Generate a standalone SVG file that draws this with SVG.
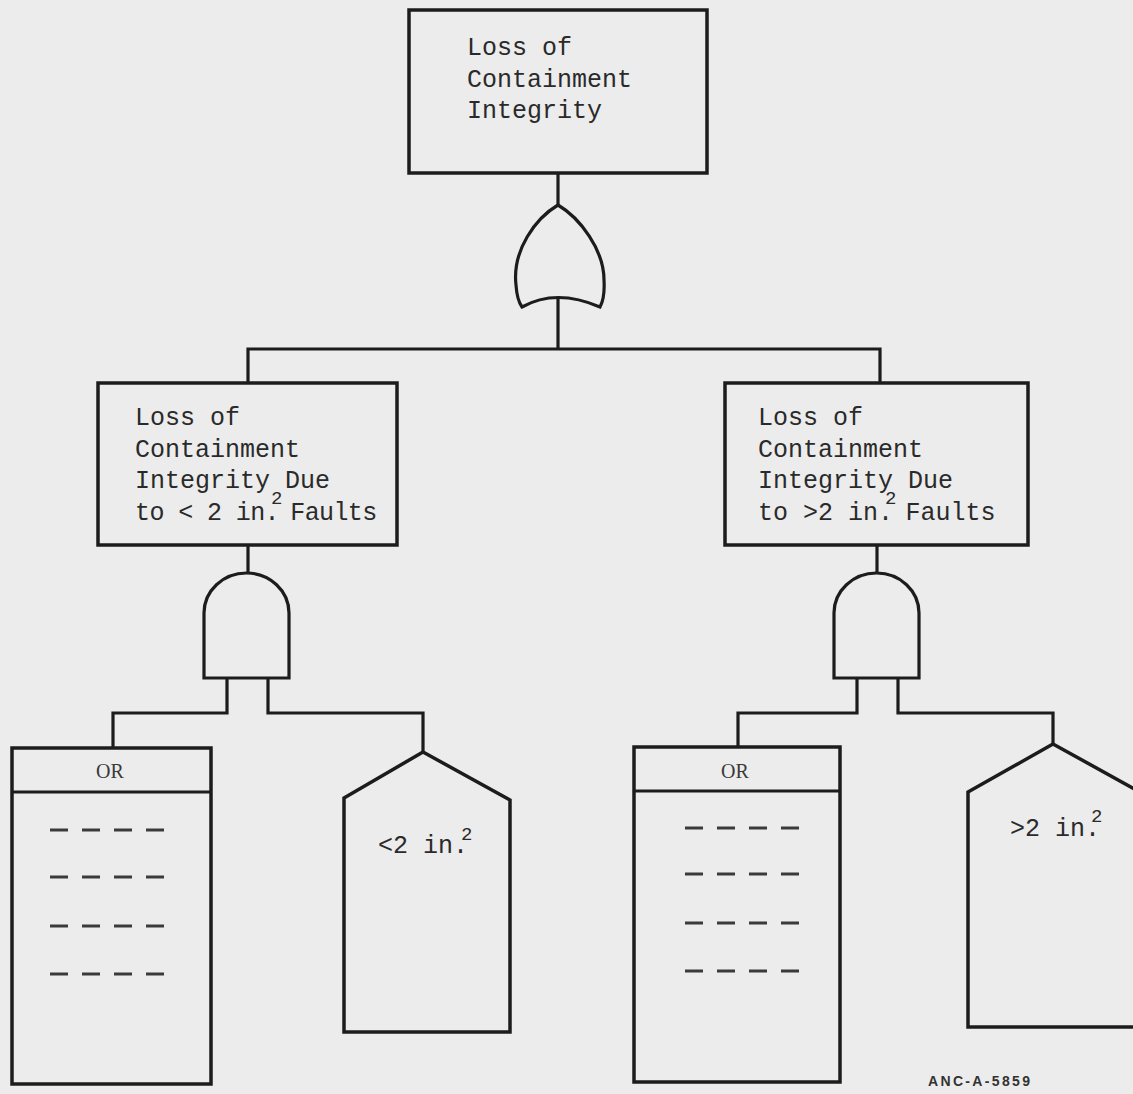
<svg xmlns="http://www.w3.org/2000/svg" width="1133" height="1094" viewBox="0 0 1133 1094">
<style>
.ln{fill:none;stroke:#1c1c1c;stroke-width:3.2;stroke-linejoin:miter}
.box{fill:#ececec;stroke:#1c1c1c;stroke-width:3.5}
.t{font-family:"Liberation Mono","Courier New",monospace;font-size:25px;fill:#2a2a2a}
.sup{font-size:19px}
.or{font-family:"Liberation Serif","Times New Roman",serif;font-size:20px;fill:#3a3a3a;text-anchor:middle}
.dash{stroke:#3a3a3a;stroke-width:3;stroke-dasharray:18 14}
.id{font-family:"Liberation Sans",Arial,sans-serif;font-weight:bold;font-size:14px;fill:#333}
</style>
<rect width="1133" height="1094" fill="#ececec"/>
<g id="connectors">
<path class="ln" d="M558 173V205"/>
<path class="ln" d="M558 298V349M248 383V349H880V383"/>
<path class="ln" d="M248 545V573"/>
<path class="ln" d="M877 545V573"/>
<path class="ln" d="M227 678V713H113V748"/>
<path class="ln" d="M268 678V713H423V752"/>
<path class="ln" d="M857 678V713H738V747"/>
<path class="ln" d="M898 678V713H1053V744"/>
</g>
<g id="top">
<rect class="box" x="409" y="10" width="298" height="163"/>
<text class="t" x="467" y="55">Loss of</text>
<text class="t" x="467" y="87">Containment</text>
<text class="t" x="467" y="118">Integrity</text>
</g>
<g id="or-gate">
<path class="ln" d="M558 205C536 218 512 250 516 285Q517 300 522 307Q556 288 600 307Q605 298 604 280C604 250 580 218 558 205Z" fill="#ececec"/>
</g>
<g id="left-event">
<rect class="box" x="98" y="383" width="299" height="162"/>
<text class="t" x="135" y="425">Loss of</text>
<text class="t" x="135" y="457">Containment</text>
<text class="t" x="135" y="488">Integrity Due</text>
<text class="t" x="135" y="520" letter-spacing="-0.6">to &lt; 2 in.<tspan class="sup" dx="-8" dy="-16">2</tspan><tspan dx="-6" dy="16"> Faults</tspan></text>
</g>
<g id="right-event">
<rect class="box" x="725" y="383" width="303" height="162"/>
<text class="t" x="758" y="425">Loss of</text>
<text class="t" x="758" y="457">Containment</text>
<text class="t" x="758" y="488">Integrity Due</text>
<text class="t" x="758" y="520">to &gt;2 in.<tspan class="sup" dx="-8" dy="-16">2</tspan><tspan dx="-6" dy="16"> Faults</tspan></text>
</g>
<g id="left-and">
<path class="ln" d="M204 678V613A42.5 40 0 0 1 289 613V678Z" fill="#ececec"/>
</g>
<g id="right-and">
<path class="ln" d="M834 678V613A42.5 40 0 0 1 919 613V678Z" fill="#ececec"/>
</g>
<g id="left-or-box">
<rect class="box" x="12" y="748" width="199" height="336"/>
<path class="ln" d="M12 792H211"/>
<text class="or" x="110" y="778">OR</text>
<path class="dash" d="M50 830H164M50 877H164M50 926H164M50 974H164"/>
</g>
<g id="left-house">
<path class="box" d="M423 752L510 800V1032H344V798Z"/>
<text class="t" x="378" y="853">&lt;2 in.<tspan class="sup" dx="-7" dy="-13">2</tspan></text>
</g>
<g id="right-or-box">
<rect class="box" x="634" y="747" width="206" height="335"/>
<path class="ln" d="M634 791H840"/>
<text class="or" x="735" y="778">OR</text>
<path class="dash" d="M685 828H799M685 874H799M685 923H799M685 971H799"/>
</g>
<g id="right-house">
<path class="box" d="M1053 744L1140 792V1027H968V792Z"/>
<text class="t" x="1010" y="836">&gt;2 in.<tspan class="sup" dx="-9" dy="-14">2</tspan></text>
</g>
<text class="id" x="928" y="1086" textLength="102" lengthAdjust="spacing">ANC-A-5859</text>
</svg>
